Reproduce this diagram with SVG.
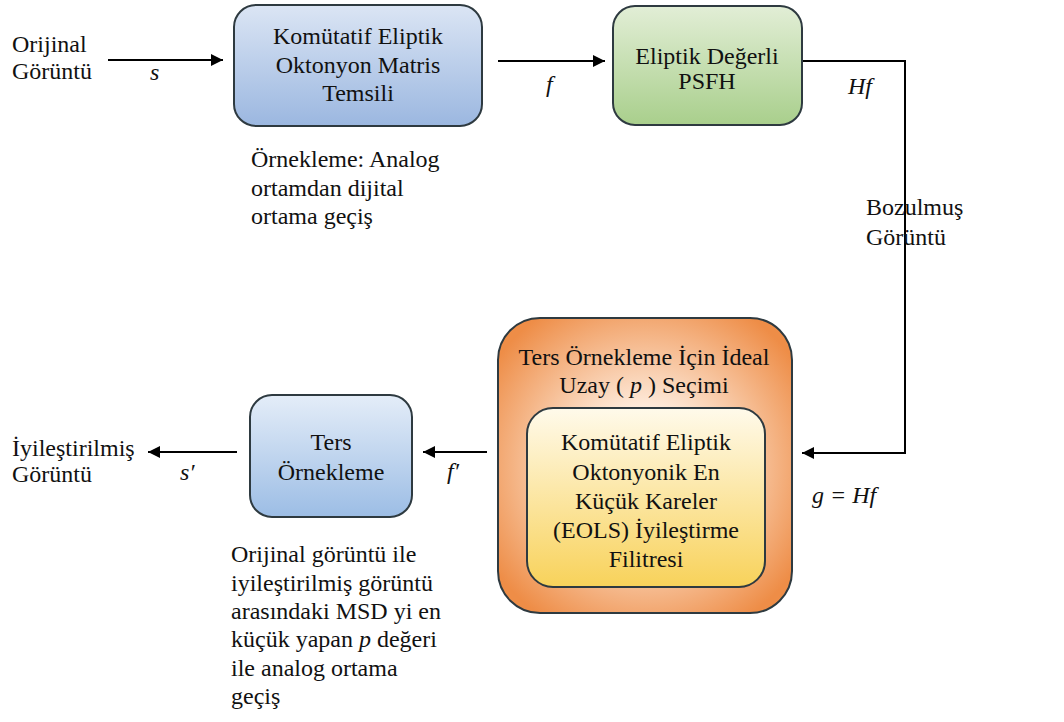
<svg xmlns="http://www.w3.org/2000/svg" id="dia" width="1064" height="722" viewBox="0 0 1064 722">
<defs>
<linearGradient id="gBlue" x1="0" y1="0" x2="0" y2="1">
<stop offset="0" stop-color="#dbe5f4"/><stop offset="1" stop-color="#9bb7e0"/>
</linearGradient>
<linearGradient id="gBlue2" x1="0" y1="0" x2="0" y2="1">
<stop offset="0" stop-color="#e4edf8"/><stop offset="1" stop-color="#9cbde5"/>
</linearGradient>
<linearGradient id="gGreen" x1="0" y1="0" x2="0" y2="1">
<stop offset="0" stop-color="#e2eed6"/><stop offset="1" stop-color="#a9cf8c"/>
</linearGradient>
<radialGradient id="gOrange" cx="0.5" cy="0.5" r="0.62">
<stop offset="0.25" stop-color="#fff4ea"/><stop offset="1" stop-color="#ee8d47"/>
</radialGradient>
<linearGradient id="gYellow" x1="0" y1="0" x2="0" y2="1">
<stop offset="0" stop-color="#fffaeb"/><stop offset="1" stop-color="#f8d25a"/>
</linearGradient>
<marker id="ah" viewBox="0 0 12 12" refX="12" refY="6" markerWidth="12" markerHeight="12" markerUnits="userSpaceOnUse" orient="auto">
<path d="M0,0 L12,6 L0,12 z" fill="#000"/>
</marker>
</defs>
<style>
#dia g text, #dia g tspan{font-family:"Liberation Serif","Times New Roman",serif !important}
text{font-size:24px;fill:#111}
.c{text-anchor:middle}
.m{font-style:italic}
.box{stroke:#2e3a40;stroke-width:2}
.ln{stroke:#000;stroke-width:2;fill:none}
</style>
<rect width="1064" height="722" fill="#fff"/>

<g id="connectors">
<line class="ln" x1="108" y1="60" x2="223" y2="60" marker-end="url(#ah)"/>
<line class="ln" x1="498" y1="61" x2="605" y2="61" marker-end="url(#ah)"/>
<polyline class="ln" points="802,61 905,61 905,453 802,453" marker-end="url(#ah)"/>
<line class="ln" x1="487" y1="452" x2="423" y2="452" marker-end="url(#ah)"/>
<line class="ln" x1="237" y1="452" x2="148" y2="452" marker-end="url(#ah)"/>
</g>

<g id="labels">
<text style="font-family:'Liberation Serif',serif !important" x="12" y="52">Orijinal</text>
<text style="font-family:'Liberation Serif',serif !important" x="12" y="79">Görüntü</text>
<text style="font-family:'Liberation Serif',serif !important" class="m" x="150" y="80">s</text>
<text style="font-family:'Liberation Serif',serif !important" class="m" x="546" y="92">f</text>
<text style="font-family:'Liberation Serif',serif !important" class="m" x="848" y="94">Hf</text>
<text style="font-family:'Liberation Serif',serif !important" x="866" y="215">Bozulmuş</text>
<text style="font-family:'Liberation Serif',serif !important" x="866" y="245">Görüntü</text>
<text style="font-family:'Liberation Serif',serif !important" class="m" x="812" y="503">g = Hf</text>
<text style="font-family:'Liberation Serif',serif !important" class="m" x="447" y="479">f′</text>
<text style="font-family:'Liberation Serif',serif !important" class="m" x="180" y="480">s′</text>
<text style="font-family:'Liberation Serif',serif !important" x="12" y="456">İyileştirilmiş</text>
<text style="font-family:'Liberation Serif',serif !important" x="12" y="482">Görüntü</text>
<text style="font-family:'Liberation Serif',serif !important" x="251" y="167">Örnekleme: Analog</text>
<text style="font-family:'Liberation Serif',serif !important" x="251" y="196">ortamdan dijital</text>
<text style="font-family:'Liberation Serif',serif !important" x="251" y="224">ortama geçiş</text>
<text style="font-family:'Liberation Serif',serif !important" x="231" y="562">Orijinal görüntü ile</text>
<text style="font-family:'Liberation Serif',serif !important" x="231" y="591">iyileştirilmiş  görüntü</text>
<text style="font-family:'Liberation Serif',serif !important" x="231" y="619">arasındaki MSD yi en</text>
<text style="font-family:'Liberation Serif',serif !important" x="231" y="647">küçük yapan <tspan font-style="italic">p</tspan> değeri</text>
<text style="font-family:'Liberation Serif',serif !important" x="231" y="676">ile analog ortama</text>
<text style="font-family:'Liberation Serif',serif !important" x="231" y="704">geçiş</text>
</g>

<g id="node-matris">
<rect class="box" x="234" y="5" width="248" height="121" rx="22" fill="url(#gBlue)"/>
<text style="font-family:'Liberation Serif',serif !important" class="c" x="358" y="44">Komütatif Eliptik</text>
<text style="font-family:'Liberation Serif',serif !important" class="c" x="358" y="73">Oktonyon Matris</text>
<text style="font-family:'Liberation Serif',serif !important" class="c" x="358" y="101">Temsili</text>
</g>

<g id="node-psfh">
<rect class="box" x="613" y="6" width="189" height="119" rx="22" fill="url(#gGreen)"/>
<text style="font-family:'Liberation Serif',serif !important" class="c" x="707" y="64">Eliptik Değerli</text>
<text style="font-family:'Liberation Serif',serif !important" class="c" x="707" y="89">PSFH</text>
</g>

<g id="node-ideal">
<rect class="box" x="498" y="318" width="294" height="295" rx="42" fill="url(#gOrange)"/>
<text style="font-family:'Liberation Serif',serif !important" class="c" x="644" y="365">Ters Örnekleme İçin İdeal</text>
<text style="font-family:'Liberation Serif',serif !important" class="c" x="644" y="393">Uzay ( <tspan font-style="italic">p</tspan> ) Seçimi</text>
<g id="node-eols">
<rect class="box" x="527" y="408" width="238" height="179" rx="26" fill="url(#gYellow)"/>
<text style="font-family:'Liberation Serif',serif !important" class="c" x="646" y="450">Komütatif Eliptik</text>
<text style="font-family:'Liberation Serif',serif !important" class="c" x="646" y="480">Oktonyonik En</text>
<text style="font-family:'Liberation Serif',serif !important" class="c" x="646" y="509">Küçük Kareler</text>
<text style="font-family:'Liberation Serif',serif !important" class="c" x="646" y="538">(EOLS) İyileştirme</text>
<text style="font-family:'Liberation Serif',serif !important" class="c" x="646" y="567">Filitresi</text>
</g>
</g>

<g id="node-ters">
<rect class="box" x="250" y="395" width="162" height="122" rx="22" fill="url(#gBlue2)"/>
<text style="font-family:'Liberation Serif',serif !important" class="c" x="331" y="450">Ters</text>
<text style="font-family:'Liberation Serif',serif !important" class="c" x="331" y="480">Örnekleme</text>
</g>
</svg>
